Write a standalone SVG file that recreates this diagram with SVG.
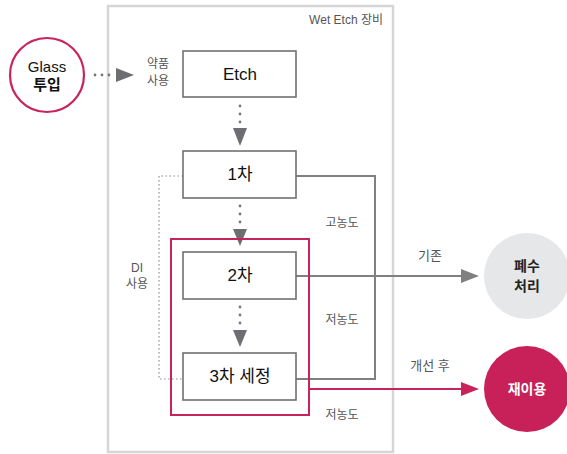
<svg xmlns="http://www.w3.org/2000/svg" width="567" height="454" viewBox="0 0 567 454">
<style>
text{font-family:"Liberation Sans","Noto Sans CJK KR",sans-serif;text-anchor:middle}
.box{fill:#fff;stroke:#707070;stroke-width:1.6}
.bt{font-size:17px;fill:#111}
.lbl{font-size:12px;fill:#555}
.d{fill:#777}
.tri{fill:#6d6e71}
</style>
<rect id="equipment" x="108" y="6" width="285" height="446" fill="#fff" stroke="#d6d6d6" stroke-width="2.5"/>
<text x="383" y="24" style="text-anchor:end;font-size:12px;fill:#555">Wet Etch 장비</text>
<g id="connectors">
  <polyline points="296,176 375,176 375,379 296,379" fill="none" stroke="#808080" stroke-width="2"/>
  <polyline points="183,176 159,176 159,379 183,379" fill="none" stroke="#909090" stroke-width="1.2" stroke-dasharray="1.5 2.5"/>
  <line x1="296" y1="276" x2="463" y2="276" stroke="#808080" stroke-width="2"/>
  <polygon points="461,269 479,276 461,283" fill="#808080"/>
  <line x1="309" y1="389" x2="463" y2="389" stroke="#c8235a" stroke-width="2"/>
  <polygon points="461,382 479,389 461,396" fill="#c8235a"/>
  <circle class="d" cx="95" cy="75" r="1.4"/><circle class="d" cx="102" cy="75" r="1.4"/><circle class="d" cx="109" cy="75" r="1.4"/>
  <polygon class="tri" points="116,68 134,75 116,82"/>
  <circle class="d" cx="240" cy="106" r="1.4"/><circle class="d" cx="240" cy="114" r="1.4"/><circle class="d" cx="240" cy="122" r="1.4"/>
  <polygon class="tri" points="233,128 240,146 247,128"/>
  <circle class="d" cx="240" cy="206" r="1.4"/><circle class="d" cx="240" cy="214" r="1.4"/><circle class="d" cx="240" cy="222" r="1.4"/>
  <polygon class="tri" points="233,229 240,246 247,229"/>
  <circle class="d" cx="240" cy="307" r="1.4"/><circle class="d" cx="240" cy="315" r="1.4"/><circle class="d" cx="240" cy="323" r="1.4"/>
  <polygon class="tri" points="233,330 240,347 247,330"/>
</g>
<rect id="group-box" x="171" y="239" width="138" height="176" fill="none" stroke="#c8235a" stroke-width="2"/>
<g id="glass">
  <circle cx="47" cy="75" r="37" fill="#fff" stroke="#c8235a" stroke-width="2.2"/>
  <text x="47" y="72" style="font-size:15px;fill:#111">Glass</text>
  <text x="47" y="90" style="font-size:15px;font-weight:bold;fill:#111">투입</text>
</g>
<g id="etch">
  <rect class="box" x="183" y="51" width="113" height="46"/>
  <text class="bt" x="240" y="80">Etch</text>
</g>
<g id="step1">
  <rect class="box" x="183" y="151" width="113" height="47"/>
  <text class="bt" x="240" y="180">1차</text>
</g>
<g id="step2">
  <rect class="box" x="183" y="252" width="113" height="47"/>
  <text class="bt" x="240" y="281">2차</text>
</g>
<g id="step3">
  <rect class="box" x="183" y="353" width="113" height="47"/>
  <text class="bt" x="240" y="382">3차 세정</text>
</g>
<g id="labels">
  <text class="lbl" x="158" y="68">약품</text>
  <text class="lbl" x="158" y="85">사용</text>
  <text class="lbl" x="137" y="272">DI</text>
  <text class="lbl" x="137" y="288">사용</text>
  <text class="lbl" x="342" y="227">고농도</text>
  <text class="lbl" x="342" y="324">저농도</text>
  <text class="lbl" x="342" y="419">저농도</text>
  <text x="430" y="260" style="font-size:13px;fill:#555">기존</text>
  <text x="430" y="370" style="font-size:13px;fill:#555">개선 후</text>
</g>
<g id="waste">
  <circle cx="527" cy="276" r="43" fill="#e6e7e8"/>
  <text x="527" y="271" style="font-size:14px;font-weight:bold;fill:#222">폐수</text>
  <text x="527" y="291" style="font-size:14px;font-weight:bold;fill:#222">처리</text>
</g>
<g id="reuse">
  <circle cx="527" cy="389" r="43" fill="#c8215a"/>
  <text x="527" y="394" style="font-size:14px;font-weight:bold;fill:#fff">재이용</text>
</g>
</svg>
